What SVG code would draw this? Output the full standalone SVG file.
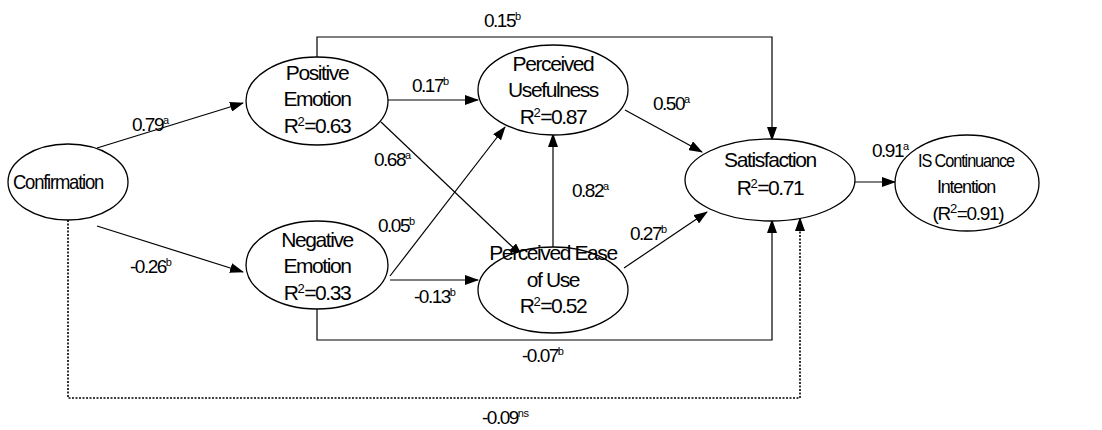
<svg xmlns="http://www.w3.org/2000/svg" width="1102" height="430" viewBox="0 0 1102 430">
<defs>
<marker id="ah" markerWidth="14" markerHeight="10" refX="13" refY="5" orient="auto" markerUnits="userSpaceOnUse">
<path d="M0,0 L14,5 L0,10 z" fill="#000"/>
</marker>
<style>
.n ellipse{fill:#fff;stroke:#000;stroke-width:1.3}
text{font-family:"Liberation Sans",Arial,sans-serif;fill:#000}
.c text{font-size:19px;letter-spacing:-1.5px}
.n text{font-size:21px;letter-spacing:-1.4px;text-anchor:middle}
.n text.sm{font-size:19px;letter-spacing:-1.3px}
.l{fill:none;stroke:#000;stroke-width:1.2}
.d{fill:none;stroke:#000;stroke-width:1.6;stroke-dasharray:2,1.5}
.c .s{font-size:11px;letter-spacing:-0.5px}
.n .s{font-size:13px;letter-spacing:-0.5px}
</style>
</defs>
<rect width="1102" height="430" fill="#fff"/>
<g id="connectors" class="c">
<line class="l" x1="97" y1="148" x2="243" y2="103" marker-end="url(#ah)"/>
<line class="l" x1="97" y1="226" x2="243" y2="272" marker-end="url(#ah)"/>
<polyline class="l" points="317,57 317,37 772,37 772,140" marker-end="url(#ah)"/>
<line class="l" x1="388" y1="100" x2="478" y2="100" marker-end="url(#ah)"/>
<line class="l" x1="381" y1="122" x2="522" y2="256" marker-end="url(#ah)"/>
<line class="l" x1="390" y1="276" x2="505" y2="127" marker-end="url(#ah)"/>
<line class="l" x1="390" y1="280" x2="478" y2="280" marker-end="url(#ah)"/>
<polyline class="l" points="317,308 317,340 772,340 772,220" marker-end="url(#ah)"/>
<line class="l" x1="553" y1="248" x2="553" y2="134" marker-end="url(#ah)"/>
<line class="l" x1="625" y1="110" x2="702" y2="152" marker-end="url(#ah)"/>
<line class="l" x1="624" y1="268" x2="707" y2="212" marker-end="url(#ah)"/>
<line class="l" x1="855" y1="182" x2="895" y2="182" marker-end="url(#ah)"/>
<polyline class="d" points="68,220 68,398 800,398 800,218" marker-end="url(#ah)"/>
<text x="132" y="131">0.79<tspan class="s" dy="-7">a</tspan></text>
<text x="130" y="273">-0.26<tspan class="s" dy="-7">b</tspan></text>
<text x="484" y="27">0.15<tspan class="s" dy="-7">b</tspan></text>
<text x="412" y="92">0.17<tspan class="s" dy="-7">b</tspan></text>
<text x="374" y="166">0.68<tspan class="s" dy="-7">a</tspan></text>
<text x="378" y="232">0.05<tspan class="s" dy="-7">b</tspan></text>
<text x="414" y="303">-0.13<tspan class="s" dy="-7">b</tspan></text>
<text x="572" y="197">0.82<tspan class="s" dy="-7">a</tspan></text>
<text x="653" y="110">0.50<tspan class="s" dy="-7">a</tspan></text>
<text x="630" y="240">0.27<tspan class="s" dy="-7">b</tspan></text>
<text x="872" y="157">0.91<tspan class="s" dy="-7">a</tspan></text>
<text x="522" y="362">-0.07<tspan class="s" dy="-7">b</tspan></text>
<text x="482" y="424">-0.09<tspan class="s" dy="-7">ns</tspan></text>
</g>
<g id="confirmation" class="n">
<ellipse cx="68" cy="182" rx="60" ry="38"/>
<text x="58" y="189" textLength="90" lengthAdjust="spacingAndGlyphs">Confirmation</text>
</g>
<g id="positive-emotion" class="n">
<ellipse cx="317" cy="101" rx="71" ry="44"/>
<text x="317" y="80">Positive</text>
<text x="317" y="106">Emotion</text>
<text x="317" y="133">R<tspan class="s" dy="-7">2</tspan><tspan dy="7">=0.63</tspan></text>
</g>
<g id="perceived-usefulness" class="n">
<ellipse cx="553" cy="90" rx="75" ry="45"/>
<text x="553" y="71">Perceived</text>
<text x="553" y="97">Usefulness</text>
<text x="553" y="124">R<tspan class="s" dy="-7">2</tspan><tspan dy="7">=0.87</tspan></text>
</g>
<g id="negative-emotion" class="n">
<ellipse cx="317" cy="265" rx="71" ry="44"/>
<text x="317" y="247">Negative</text>
<text x="317" y="273">Emotion</text>
<text x="317" y="300">R<tspan class="s" dy="-7">2</tspan><tspan dy="7">=0.33</tspan></text>
</g>
<g id="perceived-ease-of-use" class="n">
<ellipse cx="553" cy="290" rx="75" ry="43"/>
<text x="553" y="260">Perceived Ease</text>
<text x="553" y="287">of Use</text>
<text x="553" y="313">R<tspan class="s" dy="-7">2</tspan><tspan dy="7">=0.52</tspan></text>
</g>
<g id="satisfaction" class="n">
<ellipse cx="770" cy="180" rx="85" ry="41"/>
<text x="770" y="167">Satisfaction</text>
<text x="770" y="195">R<tspan class="s" dy="-7">2</tspan><tspan dy="7">=0.71</tspan></text>
</g>
<g id="is-continuance-intention" class="n">
<ellipse cx="967" cy="183" rx="72" ry="48"/>
<text class="sm" x="966" y="167" textLength="96" lengthAdjust="spacingAndGlyphs">IS Continuance</text>
<text class="sm" x="966" y="193" textLength="58" lengthAdjust="spacingAndGlyphs">Intention</text>
<text class="sm" x="968" y="220">(R<tspan class="s" dy="-7">2</tspan><tspan dy="7">=0.91)</tspan></text>
</g>
</svg>
